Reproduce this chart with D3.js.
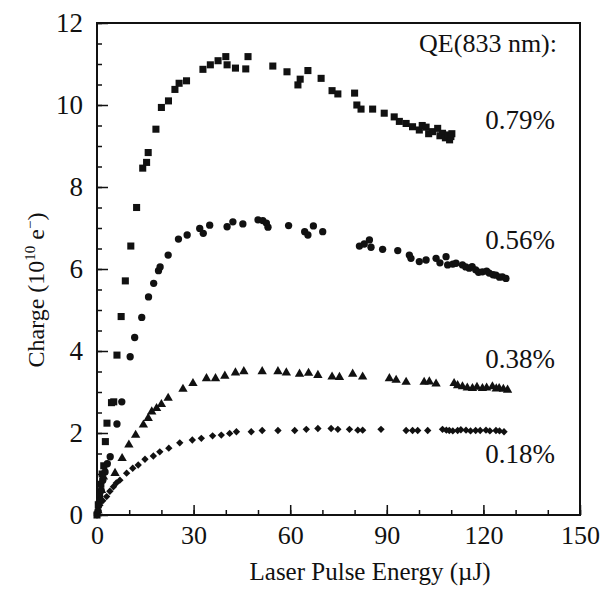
<!DOCTYPE html>
<html lang="en">
<head>
  <meta charset="UTF-8">
  <title>Charge vs Laser Pulse Energy</title>
  <script src="https://d3js.org/d3.v7.min.js"></script>
  <style>
    body { margin: 0; background: #fff; }
    text { font-family: "Liberation Serif", "Times New Roman", serif; fill: #111; }
  </style>
</head>
<body>
  <svg id="chart" width="613" height="592"></svg>

  <script>
    // [energy (uJ), charge (1e10 e-)]
    const qe079 = [[0,0],[0.4,0.25],[0.8,0.5],[1.2,0.75],[1.6,1.0],[2.1,1.2],[2.6,1.79],[3.1,2.24],[4.5,2.74],[5.2,2.76],
      [6.2,3.9],[7.5,4.84],[8.8,5.71],[10.5,6.56],[12.3,7.5],[14.2,8.46],[15.4,8.6],[15.9,8.84],[18.3,9.41],[20,9.94],
      [22.2,10.1],[24.2,10.38],[25.5,10.53],[27.8,10.59],[32.9,10.87],[35.2,10.98],[37.6,11.08],[40,11.18],[40.4,10.98],
      [43,10.9],[46.2,10.88],[46.9,11.18],[54.6,10.95],[59,10.81],[62.4,10.49],[63.1,10.63],[65.5,10.84],[69.6,10.65],
      [73,10.35],[74.8,10.27],[80,10.29],[80.7,10.0],[82,9.9],[85.6,9.9],[89.2,9.8],[92.3,9.71],[93.9,9.6],[96,9.55],
      [98,9.47],[100.1,9.39],[101,9.5],[102.2,9.46],[103,9.3],[104.2,9.35],[105.8,9.43],[106.5,9.25],[107.3,9.31],
      [108.2,9.2],[108.9,9.27],[109.5,9.15],[109.9,9.23],[110.2,9.3]];

    const qe056 = [[0.3,0.1],[0.8,0.35],[1.3,0.6],[1.8,0.85],[2.5,1.05],[3.2,1.25],[4.1,1.42],[6.2,2.22],[7.7,2.76],
      [10.3,3.86],[11.7,4.33],[13.9,4.82],[16,5.32],[17.6,5.65],[19.1,5.96],[19.6,6.05],[22.1,6.34],[25.3,6.73],[28,6.83],
      [31.9,6.99],[33,6.87],[35,7.07],[40.4,7.03],[42.2,7.15],[45.3,7.1],[50,7.2],[51.5,7.18],[52.6,7.12],[53.1,7.02],
      [59.5,7.06],[64.5,6.91],[65.5,6.83],[67.2,7.05],[70.1,6.91],[81.5,6.56],[83,6.61],[84.6,6.71],[85.1,6.53],
      [88.7,6.48],[93.4,6.45],[97,6.34],[97.5,6.26],[100.1,6.18],[102.2,6.22],[105.3,6.26],[106.5,6.15],[108.4,6.3],
      [108.9,6.1],[110.5,6.12],[111.5,6.14],[113.5,6.1],[114.5,6.05],[115.6,6.02],[116.5,6.06],[117.6,5.98],[118.5,5.92],
      [119.7,5.93],[121,5.95],[121.8,5.9],[123,5.86],[123.9,5.85],[125,5.8],[125.9,5.81],[127,5.77]];

    const qe038 = [[0.3,0.1],[0.8,0.35],[1.4,0.6],[2,0.93],[5.6,1.02],[7.8,1.38],[9.9,1.71],[12,1.95],[14.4,2.2],
      [15.9,2.36],[17,2.52],[18.5,2.6],[20,2.7],[22.1,2.85],[26.7,3.07],[29.8,3.21],[34,3.33],[36.8,3.33],[39.7,3.39],
      [43,3.47],[45.6,3.5],[51.3,3.5],[56.2,3.5],[58.8,3.47],[62.9,3.44],[65.7,3.46],[68.6,3.41],[73,3.37],[75.3,3.36],
      [79.4,3.44],[82.5,3.37],[90.8,3.33],[92.9,3.29],[96,3.24],[101.6,3.24],[103.2,3.25],[105.3,3.2],[110.9,3.21],
      [112,3.16],[113.5,3.13],[115,3.1],[116.6,3.09],[118,3.12],[119.7,3.09],[121,3.1],[122.8,3.13],[124,3.08],
      [124.9,3.09],[126.2,3.07],[127.5,3.05]];

    const qe018 = [[0,0],[0.4,0.1],[0.9,0.24],[1.8,0.35],[3,0.45],[4,0.58],[5.1,0.69],[6,0.78],[7.1,0.85],[9.2,1.02],
      [11.1,1.14],[12.8,1.22],[14.9,1.36],[17.5,1.44],[19.5,1.54],[22.3,1.63],[25.7,1.76],[29.6,1.83],[32.4,1.87],
      [35.9,1.93],[38.6,1.95],[41.2,1.99],[43.3,2.03],[47.9,2.03],[51.3,2.06],[56.2,2.06],[61.4,2.06],[65,2.09],
      [68.6,2.11],[72.7,2.11],[74.8,2.09],[78.4,2.09],[81,2.07],[82.5,2.07],[88.2,2.09],[96,2.06],[98,2.06],[99.6,2.06],
      [102.7,2.06],[107.3,2.09],[108.5,2.07],[109.4,2.06],[110.5,2.05],[112,2.06],[113,2.08],[114.6,2.07],[116,2.05],
      [117.6,2.06],[119,2.06],[120.8,2.07],[122,2.05],[123.9,2.06],[125,2.05],[126.4,2.03]];

    const seriesLabels = ["0.79%", "0.56%", "0.38%", "0.18%"];
    const xTicks = [0, 30, 60, 90, 120, 150];
    const yTicks = [0, 2, 4, 6, 8, 10, 12];

    const svg = d3.select("#chart");
    const x = d3.scaleLinear().domain([0, 150]).range([97, 580]);
    const y = d3.scaleLinear().domain([0, 12]).range([515, 23]);

    // frame
    svg.append("rect")
      .attr("x", x(0)).attr("y", y(12))
      .attr("width", x(150) - x(0)).attr("height", y(0) - y(12))
      .attr("fill", "none").attr("stroke", "#111").attr("stroke-width", 2);

    // minor ticks first, then major with labels
    const xMinor = svg.append("g").attr("transform", `translate(0,${y(0)})`)
      .call(d3.axisBottom(x).tickValues(d3.range(0, 151, 10)).tickSize(-5).tickFormat(""));
    const xMajor = svg.append("g").attr("transform", `translate(0,${y(0)})`)
      .call(d3.axisBottom(x).tickValues(xTicks).tickSize(-10).tickPadding(11).tickFormat(d3.format("d")));
    const yMinor = svg.append("g").attr("transform", `translate(${x(0)},0)`)
      .call(d3.axisLeft(y).tickValues(d3.range(0, 12.01, 0.5)).tickSize(-5).tickFormat(""));
    const yMajor = svg.append("g").attr("transform", `translate(${x(0)},0)`)
      .call(d3.axisLeft(y).tickValues(yTicks).tickSize(-11).tickPadding(14).tickFormat(d3.format("d")));

    [xMinor, xMajor, yMinor, yMajor].forEach(g => {
      g.attr("font-family", null);
      g.select(".domain").remove();
      g.selectAll("line").attr("stroke", "#111").attr("stroke-width", 1.5);
    });
    xMajor.selectAll("text").style("font-size", "26px").attr("fill", "#111");
    yMajor.selectAll("text").style("font-size", "27px").attr("fill", "#111");

    // markers
    const shapes = [
      { data: qe079, type: d3.symbolSquare, size: 50, rot: 0 },
      { data: qe056, type: d3.symbolCircle, size: 42, rot: 0 },
      { data: qe038, type: d3.symbolTriangle, size: 38, rot: 0 },
      { data: qe018, type: d3.symbolSquare, size: 27, rot: 45 }
    ];
    shapes.forEach(s => {
      svg.append("g").selectAll("path")
        .data(s.data)
        .join("path")
        .attr("d", d3.symbol().type(s.type).size(s.size))
        .attr("transform", d => `translate(${x(d[0])},${y(d[1])}) rotate(${s.rot})`)
        .attr("fill", "#111");
    });

    // annotations
    svg.append("text").attr("x", 557).attr("y", 52).attr("text-anchor", "end")
      .style("font-size", "26px").text("QE(833 nm):");
    const labelY = [129, 249, 368, 463];
    seriesLabels.forEach((t, i) => {
      svg.append("text").attr("x", 555).attr("y", labelY[i]).attr("text-anchor", "end")
        .style("font-size", "27px").text(t);
    });

    // axis titles
    svg.append("text").attr("x", 370).attr("y", 580).attr("text-anchor", "middle")
      .style("font-size", "25px").text("Laser Pulse Energy (\u00B5J)");

    const yTitle = svg.append("text")
      .attr("transform", "translate(44,290) rotate(-90)")
      .attr("text-anchor", "middle")
      .style("font-size", "24px");
    yTitle.append("tspan").text("Charge (10");
    yTitle.append("tspan").attr("dy", -9).style("font-size", "15px").text("10");
    yTitle.append("tspan").attr("dy", 9).text(" e");
    yTitle.append("tspan").attr("dy", -9).style("font-size", "15px").text("\u2212");
    yTitle.append("tspan").attr("dy", 9).text(")");
  </script>
</body>
</html>
